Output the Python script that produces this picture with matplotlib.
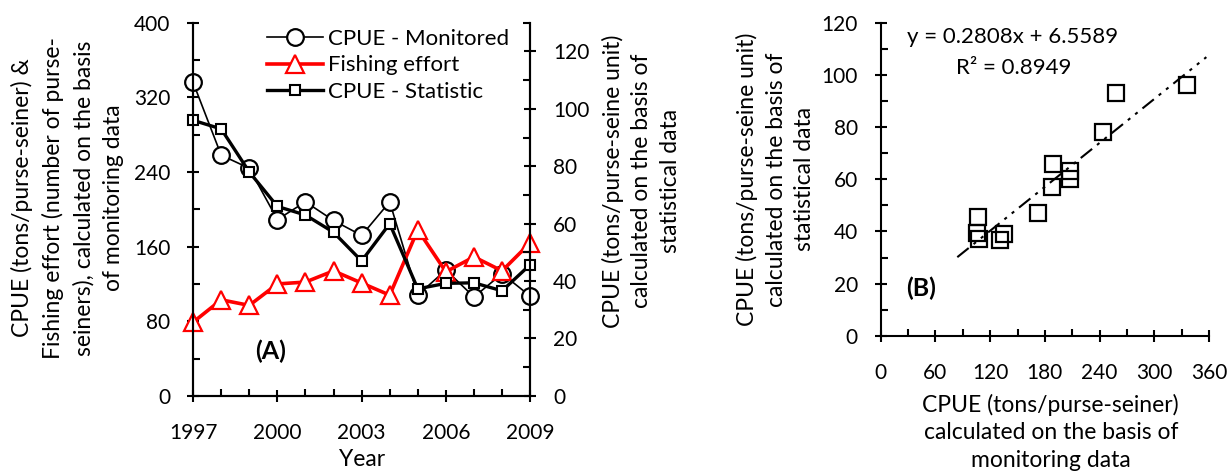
import numpy as np
import matplotlib
matplotlib.use("Agg")
import matplotlib.pyplot as plt
from matplotlib.ticker import MultipleLocator

# values
years = [1997, 1998, 1999, 2000, 2001, 2002, 2003, 2004, 2005, 2006, 2007, 2008, 2009]
cpue_monitored = [336, 258, 244, 189, 208, 188, 172, 208, 108, 135, 106, 131, 107]
fishing_effort = [79, 103, 97, 120, 122, 134, 121, 108, 178, 133, 149, 134, 164]
cpue_statistic = [96, 93, 78, 66, 63, 57, 47, 60, 37.3, 39.2, 39.4, 36.6, 45.7]

# linear trend shown in panel B
slope = 0.2808
intercept = 6.5589
r2 = 0.8949
trend_x = [84, 357]

plt.rcParams['font.family'] = ['Lato', 'DejaVu Sans']
plt.rcParams['font.size'] = 16.5

fig = plt.figure(figsize=(12.3, 4.73), dpi=100)

# ---- panel A ----
ax1 = fig.add_axes([0.157, 0.163, 0.274, 0.789])
ax2 = ax1.twinx()

l1, = ax1.plot(years, cpue_monitored, color='black', lw=1.2, marker='o', ms=12,
               mfc='white', mec='black', mew=1.6, clip_on=False, label='CPUE - Monitored')
l2, = ax1.plot(years, fishing_effort, color='red', lw=2.6, marker='^', ms=13,
               mfc='white', mec='red', mew=1.6, clip_on=False, label='Fishing effort')
l3, = ax2.plot(years, cpue_statistic, color='black', lw=2.4, marker='s', ms=7,
               mfc='white', mec='black', mew=1.5, clip_on=False, label='CPUE - Statistic')

ax1.set_xlim(1997, 2009)
ax1.set_ylim(0, 400)
ax2.set_ylim(0, 130)

ax1.set_xticks(years[::3])
ax1.xaxis.set_minor_locator(MultipleLocator(1))
ax1.yaxis.set_major_locator(MultipleLocator(80))
ax1.yaxis.set_minor_locator(MultipleLocator(40))
ax2.yaxis.set_major_locator(MultipleLocator(20))
ax2.yaxis.set_minor_locator(MultipleLocator(10))

for a in (ax1, ax2):
    a.tick_params(which='major', direction='inout', length=9, width=1.5, pad=12,
                  labelsize=15)
    a.tick_params(which='minor', direction='in', length=5, width=1.5)
    a.spines['top'].set_visible(False)
    for s in ('left', 'right', 'bottom'):
        a.spines[s].set_linewidth(1.5)
ax1.tick_params(axis='x', which='major', pad=15)

ax1.set_xlabel('Year', labelpad=4)
ax1.set_ylabel('CPUE (tons/purse-seiner) &\nFishing effort (number of purse-\n'
               'seiners), calculated on the basis\nof monitoring data',
               va='center', linespacing=1.5)
ax1.yaxis.set_label_coords(-0.372, 0.53)
ax2.set_ylabel('CPUE (tons/purse-seine unit)\ncalculated on the basis of\nstatistical data',
               va='center', linespacing=1.45)
ax2.yaxis.set_label_coords(1.33, 0.576)

ax2.legend(handles=[l1, l2, l3], loc='upper left', bbox_to_anchor=(0.22, 0.984),
           frameon=False, borderpad=0, borderaxespad=0, handlelength=2.5,
           handletextpad=0.25, labelspacing=0.3, numpoints=1, fontsize=16)

ax1.text(0.2306, 0.119, '(A)', transform=ax1.transAxes, ha='center', va='center',
         fontsize=18, fontweight='bold')

# ---- panel B ----
ax3 = fig.add_axes([0.716, 0.290, 0.267, 0.662])
ax3.plot(cpue_monitored, cpue_statistic, ls='none', marker='s', ms=11,
         mfc='none', mec='black', mew=1.6, clip_on=False)
tx = np.array(trend_x)
ax3.plot(tx, slope * tx + intercept, color='black', lw=1.5,
         dashes=(7, 3, 1.5, 3, 1.5, 3))

ax3.set_xlim(0, 360)
ax3.set_ylim(0, 120)
ax3.xaxis.set_major_locator(MultipleLocator(60))
ax3.xaxis.set_minor_locator(MultipleLocator(30))
ax3.yaxis.set_major_locator(MultipleLocator(20))
ax3.yaxis.set_minor_locator(MultipleLocator(10))
ax3.tick_params(which='major', direction='inout', length=9, width=1.5, pad=12,
                labelsize=15)
ax3.tick_params(which='minor', direction='in', length=5, width=1.5)
ax3.tick_params(axis='x', which='major', pad=15)
ax3.spines['top'].set_visible(False)
ax3.spines['right'].set_visible(False)
ax3.spines['left'].set_linewidth(1.5)
ax3.spines['bottom'].set_linewidth(1.5)

ax3.set_xlabel('CPUE (tons/purse-seiner)\ncalculated on the basis of\nmonitoring data',
               va='center', linespacing=1.38)
ax3.xaxis.set_label_coords(0.518, -0.308)
ax3.set_ylabel('CPUE (tons/purse-seine unit)\ncalculated on the basis of\nstatistical data',
               va='center', linespacing=1.45)
ax3.yaxis.set_label_coords(-0.32, 0.5)

ax3.text(0.401, 0.955, 'y = %.4fx + %.4f' % (slope, intercept), transform=ax3.transAxes,
         ha='center', va='center', fontsize=16)
ax3.text(0.404, 0.854, 'R² = %.4f' % r2, transform=ax3.transAxes, ha='center',
         va='center', fontsize=16)
ax3.text(0.124, 0.151, '(B)', transform=ax3.transAxes, ha='center', va='center',
         fontsize=18, fontweight='bold')

fig.savefig('out.png', dpi=100)
